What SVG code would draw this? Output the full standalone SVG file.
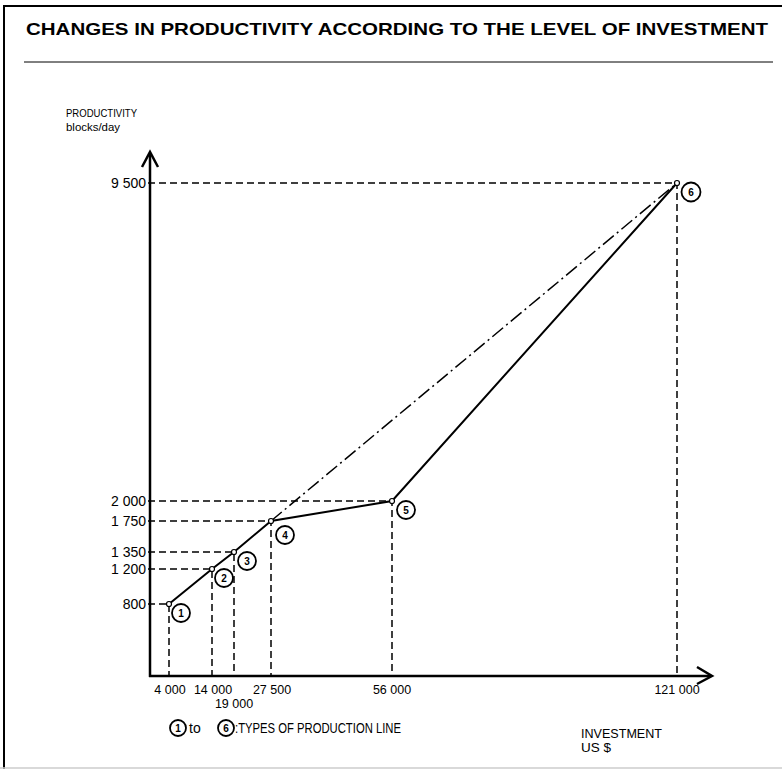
<svg xmlns="http://www.w3.org/2000/svg" width="782" height="769" viewBox="0 0 782 769">
<style>
text{font-family:"Liberation Sans",Arial,sans-serif;fill:#000}
.t{font-size:11.5px}
.lbl{font-size:14px;text-anchor:end}
.xl{font-size:12.5px;text-anchor:middle}
.ax{stroke:#000;stroke-width:2.5;fill:none}
.dash{stroke:#000;stroke-width:1.5;stroke-dasharray:7,4;fill:none}
.solid{stroke:#000;stroke-width:2;fill:none}
.dd{stroke:#000;stroke-width:1.5;stroke-dasharray:14,4,2,4;fill:none}
.pt{fill:#fff;stroke:#000;stroke-width:1.2}
.c{fill:#fff;stroke:#000;stroke-width:1.8}
.n{font-size:10px;font-weight:bold;text-anchor:middle}
</style>
<rect x="0" y="0" width="782" height="769" fill="#fff"/>
<path d="M4,769 V6 H782" stroke="#000" stroke-width="2" fill="none"/>
<line x1="0" y1="768" x2="782" y2="768" stroke="#ccc" stroke-width="1.5"/>
<text x="26" y="35" font-size="16.5" font-weight="bold" textLength="742" lengthAdjust="spacingAndGlyphs">CHANGES IN PRODUCTIVITY ACCORDING TO THE LEVEL OF INVESTMENT</text>
<line x1="24" y1="62" x2="773" y2="62" stroke="#000" stroke-width="1"/>
<text x="66" y="117" class="t" textLength="71" lengthAdjust="spacingAndGlyphs">PRODUCTIVITY</text>
<text x="66" y="131" class="t" textLength="54" lengthAdjust="spacingAndGlyphs">blocks/day</text>
<text x="581" y="738" font-size="13.5" textLength="81" lengthAdjust="spacingAndGlyphs">INVESTMENT</text>
<text x="581" y="752" font-size="13.5">US $</text>
<g id="axes">
<line x1="150" y1="153" x2="150" y2="677" class="ax"/>
<path d="M142,167 L150,152 L158,167" class="ax" stroke-width="2"/>
<line x1="149" y1="676" x2="710" y2="676" class="ax"/>
<path d="M697,667 L712,676 L697,684" class="ax" stroke-width="2"/>
</g>
<g id="connectors">
<path class="dash" d="M148,183 H677 V676"/>
<path class="dash" d="M148,501 H392 V676"/>
<path class="dash" d="M148,521 H271 V676"/>
<path class="dash" d="M148,552 H234 V676"/>
<path class="dash" d="M148,569 H212 V676"/>
<path class="dash" d="M148,604 H169 V676"/>
<polyline class="solid" points="169,604 212,569 234,552 271,521 392,501 677,183"/>
<line class="dd" x1="271" y1="521" x2="677" y2="183"/>
</g>
<g id="ylabels">
<text x="146" y="188" class="lbl">9 500</text>
<text x="146" y="506" class="lbl">2 000</text>
<text x="146" y="526" class="lbl">1 750</text>
<text x="146" y="557" class="lbl">1 350</text>
<text x="146" y="574" class="lbl">1 200</text>
<text x="146" y="609" class="lbl">800</text>
</g>
<g id="xlabels">
<text x="170" y="694" class="xl">4 000</text>
<text x="213" y="694" class="xl">14 000</text>
<text x="234" y="708" class="xl">19 000</text>
<text x="272" y="694" class="xl">27 500</text>
<text x="392" y="694" class="xl">56 000</text>
<text x="677" y="694" class="xl">121 000</text>
</g>
<g id="p1"><circle class="pt" cx="169" cy="604" r="2.5"/><circle class="c" cx="181" cy="613" r="9"/><text class="n" x="181" y="616.5">1</text></g>
<g id="p2"><circle class="pt" cx="212" cy="569" r="2.5"/><circle class="c" cx="224" cy="578" r="9"/><text class="n" x="224" y="581.5">2</text></g>
<g id="p3"><circle class="pt" cx="234" cy="552" r="2.5"/><circle class="c" cx="247" cy="561" r="9"/><text class="n" x="247" y="564.5">3</text></g>
<g id="p4"><circle class="pt" cx="271" cy="521" r="2.5"/><circle class="c" cx="285" cy="535" r="9"/><text class="n" x="285" y="538.5">4</text></g>
<g id="p5"><circle class="pt" cx="392" cy="501" r="2.5"/><circle class="c" cx="406" cy="510" r="9"/><text class="n" x="406" y="513.5">5</text></g>
<g id="p6"><circle class="pt" cx="677" cy="183" r="2.5"/><circle class="c" cx="691" cy="192" r="9.5"/><text class="n" x="691" y="195.5">6</text></g>
<g id="legend">
<circle class="c" cx="178" cy="728" r="8"/><text class="n" x="178" y="731.5">1</text>
<text x="189" y="733" font-size="14">to</text>
<circle class="c" cx="226" cy="728" r="8"/><text class="n" x="226" y="731.5">6</text>
<text x="235" y="733" font-size="14" textLength="166" lengthAdjust="spacingAndGlyphs">:TYPES OF PRODUCTION LINE</text>
</g>
</svg>
